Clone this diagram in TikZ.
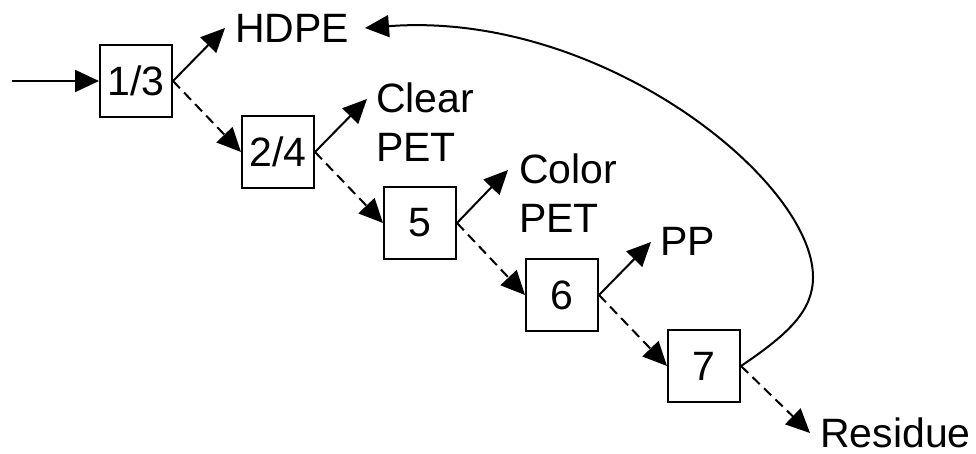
\documentclass[tikz,border=0pt]{standalone}
\usepackage{fontspec}
\setmainfont{Liberation Sans}
\usetikzlibrary{arrows.meta}
\begin{document}
\begin{tikzpicture}[x=1pt,y=-1pt,
  box/.style={draw,line width=2pt,minimum width=72pt,minimum height=72pt,inner sep=0pt,font=\fontsize{41}{49}\selectfont},
  lbl/.style={inner sep=0pt,font=\fontsize{41}{49}\selectfont,align=left},
  arr/.style={line width=2pt,-{Triangle[length=24pt,width=22pt]}},
  darr/.style={arr,dash pattern=on 10pt off 6pt}]
\useasboundingbox (0,0) rectangle (976,454);
\node[box] (b1) at (136,81) {1/3};
\node[box] (b2) at (278,152) {2/4};
\node[box] (b3) at (420,223) {5};
\node[box] (b4) at (562,295) {6};
\node[box] (b5) at (704,366) {7};
\coordinate (in) at (12,81);
\node[lbl,anchor=base west] (hdpe) at (235,43) {HDPE};
\node[lbl,anchor=north west] (clear) at (376,83) {Clear\\PET};
\node[lbl,anchor=north west] (color) at (519,154) {Color\\PET};
\node[lbl,anchor=base west] (pp) at (660,255) {PP};
\node[lbl,anchor=base west] (res) at (820,447) {Residue};
\coordinate (t1) at (225,28);
\coordinate (t2) at (367,99);
\coordinate (t3) at (508,170);
\coordinate (t4) at (651,242);
\coordinate (t5) at (810,433);
\coordinate (t6) at (365,28);
\draw[arr] (in) -- (b1.west);
\draw[arr] (b1.east) -- (t1);
\draw[darr] (b1.east) -- (b2.west);
\draw[arr] (b2.east) -- (t2);
\draw[darr] (b2.east) -- (b3.west);
\draw[arr] (b3.east) -- (t3);
\draw[darr] (b3.east) -- (b4.west);
\draw[arr] (b4.east) -- (t4);
\draw[darr] (b4.east) -- (b5.west);
\draw[darr] (b5.east) -- (t5);
\draw[arr] (b5.east) .. controls (790,333) and (813,310) .. (813,277) .. controls (813,180) and (600,10) .. (t6);
\end{tikzpicture}
\end{document}
